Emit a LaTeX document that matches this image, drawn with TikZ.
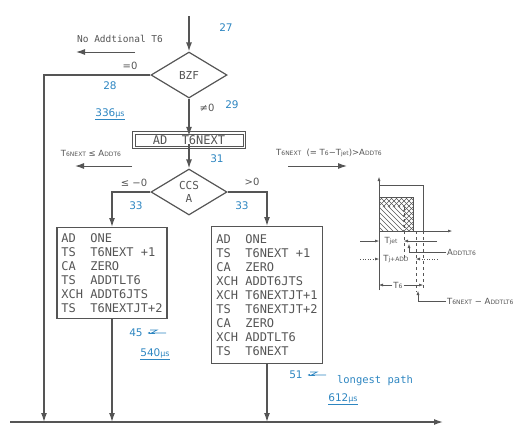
\documentclass[tikz,border=0pt]{standalone}
\usepackage{fontspec}
\setmainfont{DejaVu Sans}
\setmonofont{DejaVu Sans Mono}
\usetikzlibrary{shapes.geometric,arrows.meta}
\definecolor{linegray}{RGB}{85,85,85}
\definecolor{numblue}{RGB}{46,134,193}
\newcommand{\lowcaps}[1]{{\fontsize{6}{6}\selectfont #1}}
\newcommand{\microsec}[1]{\underline{#1{\fontsize{8}{8}\selectfont µs}}}

\begin{document}
\begin{tikzpicture}[x=1pt,y=-1pt,color=linegray,
	flow/.style={line width=1.3pt,-{Latex[length=9pt,width=6pt]}},
	decision/.style={diamond,draw,line width=1.2pt,minimum width=76pt,minimum height=46pt,aspect=1.65,inner sep=0pt,align=center,font=\ttfamily\fontsize{11}{13}\selectfont},
	codebox/.style={draw,line width=1.2pt,align=left,inner xsep=4.5pt,inner ysep=6pt,font=\ttfamily\fontsize{12}{14}\selectfont},
	stepno/.style={text=numblue,font=\fontsize{10.5}{12}\selectfont},
	cond/.style={font=\fontsize{10}{12}\selectfont},
	note/.style={font=\fontsize{8.5}{9}\selectfont,inner sep=1pt},
	remark/.style={font=\ttfamily\fontsize{9.5}{11}\selectfont},
	axisline/.style={line width=0.5pt},
	hatch/.style={line width=0.4pt},
	smalltip/.style={-{Latex[length=4pt,width=3pt]}},
	squiggle/.style={numblue,line width=0.6pt}]
	\useasboundingbox (0,0) rectangle (531,440);

	\coordinate (entry) at (189,16);
	\node[decision] (bzf) at (189,75) {BZF};
	\node[draw,line width=0.8pt,minimum width=108pt,minimum height=12pt,inner sep=0pt,font=\ttfamily\fontsize{12}{14}\selectfont] (adnext) at (189,140) {AD~~T6NEXT};
	\draw[line width=0.8pt] ([shift={(-2.2,2.2)}]adnext.south west) rectangle ([shift={(2.2,-2.2)}]adnext.north east);
	\node[decision] (ccs) at (189,192) {CCS\\A};
	\node[codebox,anchor=north] (leftbox) at (112,227) {AD~~ONE\\TS~~T6NEXT~+1\\CA~~ZERO\\TS~~ADDTLT6\\XCH~ADDT6JTS\\TS~~T6NEXTJT+2};
	\node[codebox,anchor=north,inner xsep=5pt,inner ysep=8pt] (rightbox) at (267,226) {AD~~ONE\\TS~~T6NEXT~+1\\CA~~ZERO\\XCH~ADDT6JTS\\XCH~T6NEXTJT+1\\TS~~T6NEXTJT+2\\CA~~ZERO\\XCH~ADDTLT6\\TS~~T6NEXT};
	\coordinate (busl) at (10,422);
	\coordinate (busr) at (443,422);
	\coordinate (skip) at (44,422);

	\draw[flow] (entry) -- (bzf);
	\draw[flow] (bzf) -- ([yshift=-2.2pt]adnext.north);
	\draw[flow] ([yshift=2.2pt]adnext.south) -- (ccs);
	\draw[flow] (bzf.west) -| (skip);
	\draw[flow] (ccs.west) -| (leftbox.north);
	\draw[flow] (ccs.east) -| (rightbox.north);
	\draw[flow] (leftbox.south) -- (leftbox.south |- busl);
	\draw[flow] (rightbox.south) -- (rightbox.south |- busl);
	\draw[flow] (busl) -- (busr);

	\node[stepno] (n27) at (226,28) {27};
	\node[remark] (noadd) at (120,39) {No Addtional T6};
	\coordinate (na1) at (135,52);
	\coordinate (na2) at (76,52);
	\draw[flow,line width=1pt] (na1) -- (na2);
	\node[cond] (eqz) at (130,66) {=0};
	\node[stepno] (n28) at (110,86) {28};
	\node[stepno] (t336) at (110,114) {\microsec{336}};
	\node[cond] (nez) at (207,108) {≠0};
	\node[stepno] (n29) at (232,105) {29};
	\node[stepno] (n31) at (217,159) {31};
	\node[note] (lenote) at (91,153) {T\lowcaps{6NEXT} ≤ A\lowcaps{DDT6}};
	\coordinate (le1) at (132,166);
	\coordinate (le2) at (75,166);
	\draw[flow,line width=1pt] (le1) -- (le2);
	\node[note] (gtnote) at (329,153) {T\lowcaps{6NEXT}~~(=~T\lowcaps{6}−T\lowcaps{jet})>A\lowcaps{DDT6}};
	\coordinate (gt1) at (288,166);
	\coordinate (gt2) at (347,166);
	\draw[flow,line width=1pt] (gt1) -- (gt2);
	\node[cond] (lez) at (134,183) {≤ −0};
	\node[cond] (gtz) at (252,182) {>0};
	\node[stepno] (n33l) at (136,206) {33};
	\node[stepno] (n33r) at (242,206) {33};

	\node[stepno] (n45) at (136,333) {45};
	\draw[squiggle,-{Latex[length=3pt,width=2.5pt]}] ([xshift=9pt]n45.east) -- ([xshift=1pt]n45.east);
	\draw[squiggle] ([xshift=4pt,yshift=3pt]n45.east) -- ++(7,0) -- ++(-6,3) -- ++(15,0);
	\node[stepno] (t540) at (155,354) {\microsec{540}};
	\node[stepno] (n51) at (296,375) {51};
	\draw[squiggle,-{Latex[length=3pt,width=2.5pt]}] ([xshift=9pt]n51.east) -- ([xshift=1pt]n51.east);
	\draw[squiggle] ([xshift=4pt,yshift=3pt]n51.east) -- ++(7,0) -- ++(-6,3) -- ++(15,0);
	\node[remark,text=numblue,font=\ttfamily\fontsize{10.5}{12}\selectfont] (longest) at (375,381) {longest path};
	\node[stepno] (t612) at (343,399) {\microsec{612}};

	\begin{scope}
		\clip (379,207) rectangle (403,231);
		\foreach \k in {349,354,...,404}
			\draw[hatch] (\k,207) -- ++(30,30);
	\end{scope}
	\begin{scope}
		\clip (379,197) rectangle (413,207) (403,207) rectangle (413,231);
		\foreach \k in {349,354,...,414}
			\draw[hatch] (\k,196) -- ++(40,40) (\k+30,196) -- ++(-40,40);
	\end{scope}
	\draw[axisline] (379,197) rectangle (413,231);
	\draw[axisline] (379,185) -- (423,185) -- (423,231);
	\draw[axisline,dashed] (423,231) -- (423,290);
	\draw[axisline,dashed] (404,207) -- (404,258);
	\draw[axisline,dashed] (416,231) -- (416,292);
	\draw[axisline,smalltip] (379,290) -- (379,177);
	\draw[axisline,smalltip] (379,231) -- (452,231);

	\node[note] (tjet) at (391,241) {T\lowcaps{jet}};
	\draw[axisline,smalltip] (360,241) -- (379,241);
	\draw[axisline,smalltip] (437,241) -- (404,241);
	\node[note,anchor=west] (addtlt) at (446,252) {A\lowcaps{DDTLT6}};
	\draw[axisline,smalltip] (addtlt.west) -| (409,244);
	\node[note] (tjadd) at (396,259) {T\lowcaps{j+ADD}};
	\draw[axisline,dotted,smalltip] (360,259) -- (379,259);
	\draw[axisline,dotted,smalltip] (437,259) -- (416,259);
	\node[note,fill=white] (tsix) at (398,285) {T\lowcaps{6}};
	\draw[axisline,smalltip] (tsix) -- (379,285);
	\draw[axisline,smalltip] (tsix) -- (423,285);
	\node[note,anchor=west] (tnext) at (446,301) {T\lowcaps{6NEXT} − A\lowcaps{DDTLT6}};
	\draw[axisline,smalltip] (tnext.west) -| (418,291);
\end{tikzpicture}
\end{document}
